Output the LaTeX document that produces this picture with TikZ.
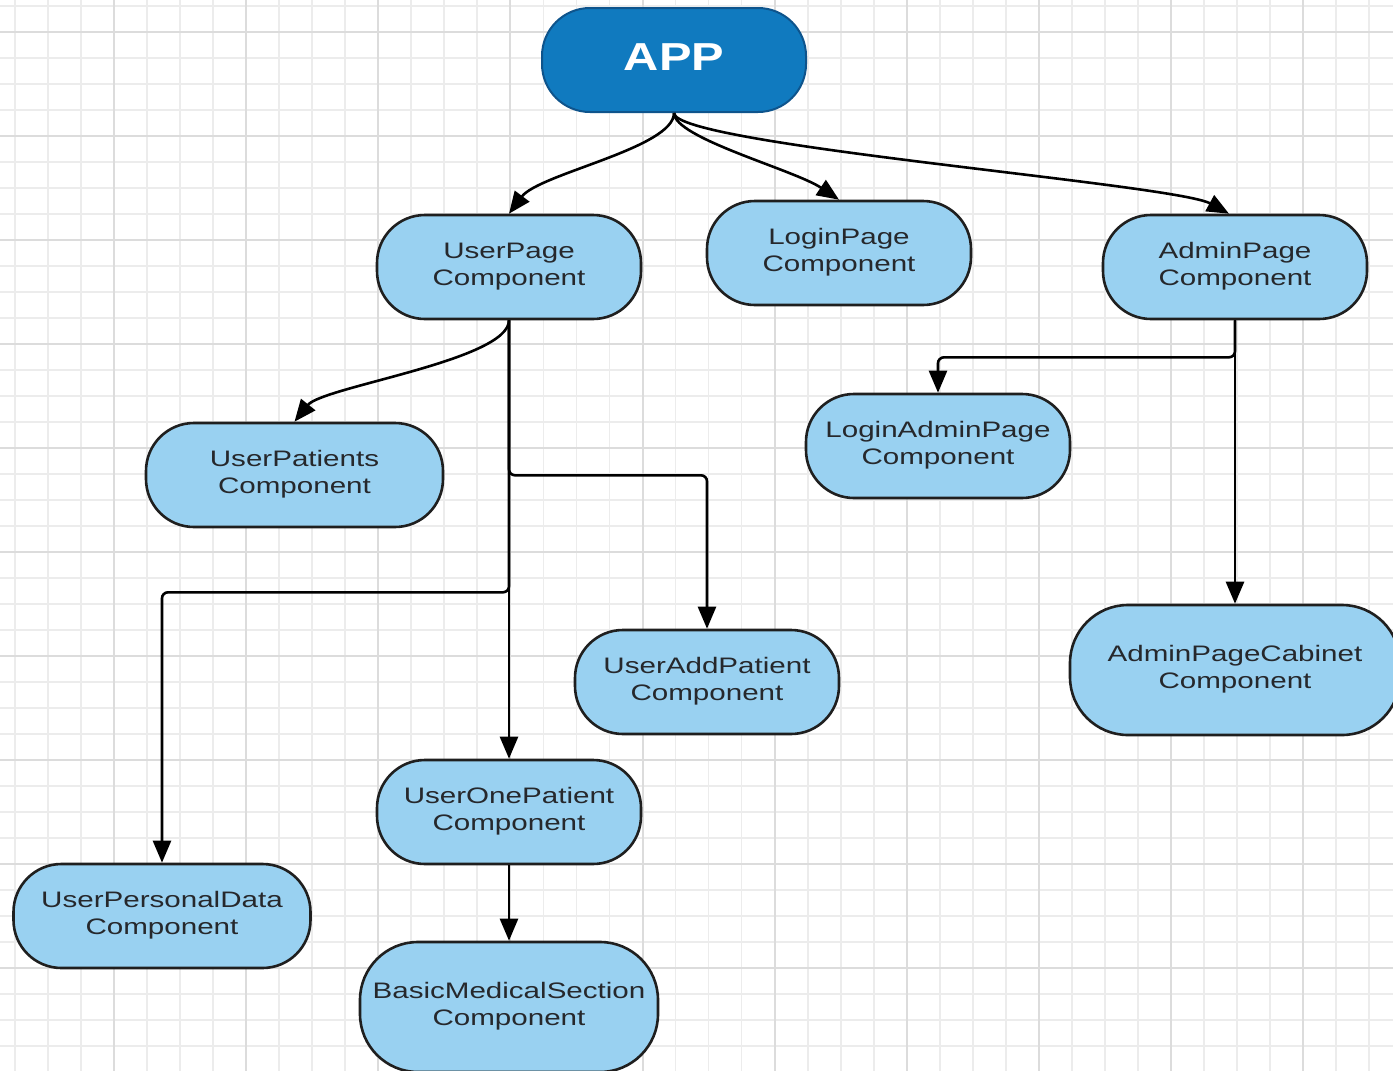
\documentclass[tikz,border=0pt]{standalone}
\usepackage{fontspec}
\usepackage{graphicx}
\setmainfont{Liberation Sans}
\usetikzlibrary{arrows.meta}

\definecolor{gridminor}{RGB}{236,236,236}
\definecolor{gridmajor}{RGB}{220,220,220}
\definecolor{lblue}{RGB}{153,209,241}
\definecolor{appblue}{RGB}{16,122,191}
\definecolor{appedge}{RGB}{14,84,140}
\definecolor{txt}{RGB}{38,40,44}

% two-line label, widened like the diagram's lettering
\newcommand{\complabel}[1]{\scalebox{1.32}[1]{\begin{tabular}{@{}c@{}}#1\end{tabular}}}

\begin{document}
\begin{tikzpicture}[x=0.5pt, y=-0.5pt,
  minorline/.style={draw=gridminor, line width=0.9pt},
  majorline/.style={draw=gridmajor, line width=1pt},
  comp/.style={draw=black!88, line width=1.3pt, fill=lblue, rounded corners=24pt,
    minimum width=132pt, minimum height=52pt, inner sep=0pt, text=txt,
    font=\fontsize{11.2}{13.5}\selectfont},
  widecomp/.style={comp, minimum width=148.5pt},
  bigcomp/.style={comp, minimum height=65pt, rounded corners=29pt},
  root/.style={draw=appedge, line width=1pt, fill=appblue, rounded corners=24pt,
    minimum width=132pt, minimum height=52pt, inner sep=0pt, text=white,
    font=\fontsize{19.5}{22}\selectfont\bfseries},
  conn/.style={draw=black, line width=1.3pt,
    -{Triangle[length=11pt, width=9pt]}},
  elbow/.style={conn, rounded corners=3pt}
]
\useasboundingbox (0,0) rectangle (1393,1071);
\fill[white] (0,0) rectangle (1393,1071);

% background grid
\begin{scope}
  \clip (0,0) rectangle (1393,1071);
  \foreach \i in {0,...,43} {
    \draw[minorline] ({-18.1+33.03*\i},0) -- ({-18.1+33.03*\i},1071);
  }
  \foreach \j in {0,...,41} {
    \draw[minorline] (0,{6+26*\j}) -- (1393,{6+26*\j});
  }
  \foreach \i in {0,...,10} {
    \draw[majorline] ({-18.1+132.12*\i},0) -- ({-18.1+132.12*\i},1071);
  }
  \foreach \j in {0,...,10} {
    \draw[majorline] (0,{32+104*\j}) -- (1393,{32+104*\j});
  }
\end{scope}

% components
\node[root] (app) at (674,60) {\raisebox{2.5pt}{\scalebox{1.25}[1]{APP}}};
\node[comp] (up) at (509,267) {\complabel{UserPage\\Component}};
\node[comp] (lp) at (839,253) {\complabel{LoginPage\\Component}};
\node[comp] (ap) at (1235,267) {\complabel{AdminPage\\Component}};
\node[widecomp] (upt) at (294.5,475) {\complabel{UserPatients\\Component}};
\node[comp] (lap) at (938,446) {\complabel{LoginAdminPage\\Component}};
\node[comp] (uap) at (707,682) {\complabel{UserAddPatient\\Component}};
\node[bigcomp, minimum width=165pt] (apc) at (1235,670) {\complabel{AdminPageCabinet\\Component}};
\node[comp] (uop) at (509,812) {\complabel{UserOnePatient\\Component}};
\node[widecomp] (upd) at (162,916) {\complabel{UserPersonalData\\Component}};
\node[bigcomp, minimum width=149pt] (bms) at (509,1007) {\complabel{BasicMedicalSection\\Component}};

% curved connectors from APP
\draw[conn] (app.south) .. controls +(0,35) and +(30,-40) .. (up.north);
\draw[conn] (app.south) .. controls +(0,25) and +(-45,-30) .. (lp.north);
\draw[conn] (app.south) .. controls +(0,32) and +(-55,-30) .. ([xshift=-3pt]ap.north);

% connectors from UserPage
\draw[conn] (up.south) .. controls +(0,40) and +(28,-35) .. (upt.north);
\draw[conn] (up.south) -- (uop.north);
\draw[elbow] (up.south) -- ++(0,155) -| (uap.north);
\draw[elbow] (up.south) -- ++(0,272) -| (upd.north);
\draw[conn] (uop.south) -- (bms.north);

% connectors from AdminPage
\draw[elbow] (ap.south) -- ++(0,37) -| (lap.north);
\draw[conn] (ap.south) -- (apc.north);
\end{tikzpicture}
\end{document}
